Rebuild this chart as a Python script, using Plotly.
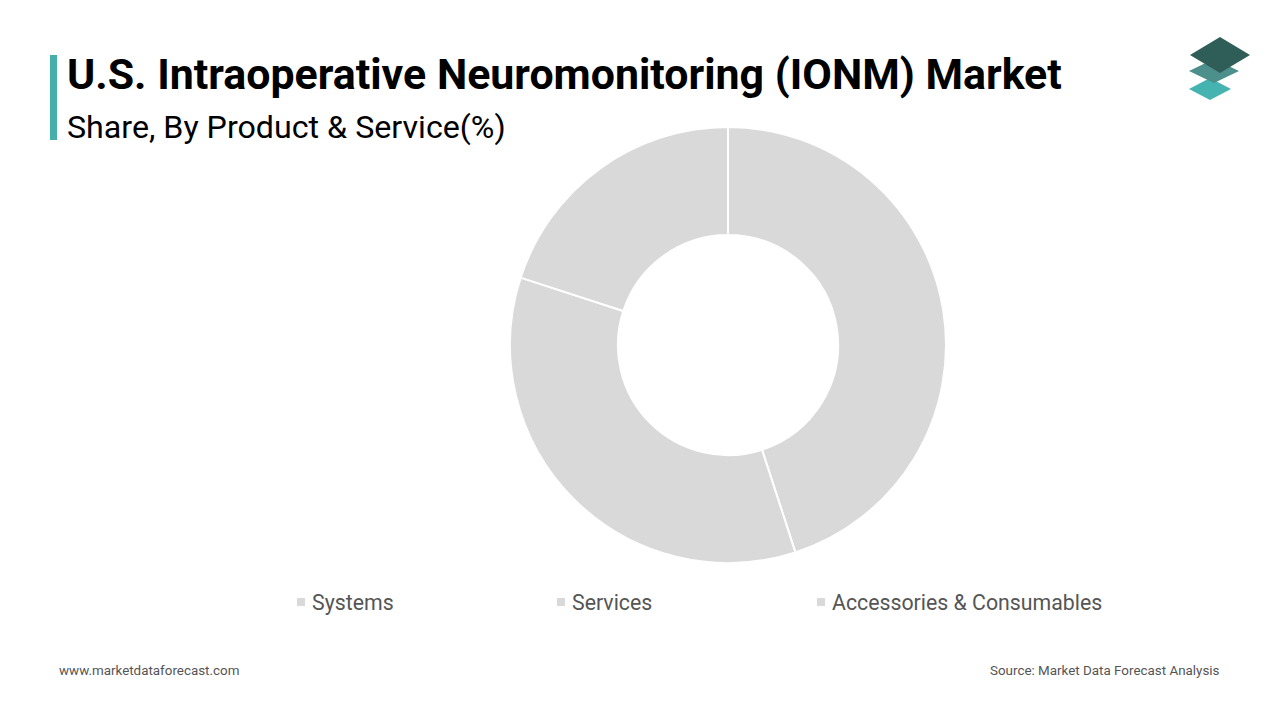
import plotly.graph_objects as go

categories = ["Systems", "Services", "Accessories & Consumables"]
shares = [45, 35, 20]
slice_colors = ["#d9d9d9", "#d9d9d9", "#d9d9d9"]

title_text = "U.S. Intraoperative Neuromonitoring (IONM) Market"
subtitle_text = "Share, By Product & Service(%)"
footer_left = "www.marketdataforecast.com"
footer_right = "Source: Market Data Forecast Analysis"

W, H = 1280, 720


def px(x):
    return x / W


def py(y):
    return 1 - y / H


cx, cy, r = 728, 345, 218

fig = go.Figure(
    go.Pie(
        labels=categories,
        values=shares,
        hole=0.505,
        sort=False,
        direction="clockwise",
        rotation=0,
        textinfo="none",
        hoverinfo="label+percent",
        marker=dict(colors=slice_colors, line=dict(color="white", width=2)),
        domain=dict(x=[px(cx - r), px(cx + r)], y=[py(cy + r), py(cy - r)]),
        showlegend=False,
    )
)

annotations = [
    dict(text=f"<b>{title_text}</b>", x=px(65), y=py(74), xanchor="left", yanchor="middle",
         font=dict(family="Roboto", size=42.9, color="#000000")),
    dict(text=subtitle_text, x=px(65), y=py(127), xanchor="left", yanchor="middle",
         font=dict(family="Roboto", size=32.2, color="#000000")),
    dict(text=footer_left, x=px(57), y=py(670), xanchor="left", yanchor="middle",
         font=dict(family="Roboto", size=13.4, color="#555555")),
    dict(text=footer_right, x=px(1222), y=py(670), xanchor="right", yanchor="middle",
         font=dict(family="Roboto", size=13.4, color="#555555")),
]

shapes = [
    dict(type="rect", xref="paper", yref="paper", x0=px(50), x1=px(57), y0=py(140), y1=py(55),
         fillcolor="#45b0ab", line=dict(width=0)),
]

# legend (custom)
leg_x = [297, 557, 817]
leg_y = 602
for name, col, lx in zip(categories, slice_colors, leg_x):
    shapes.append(dict(type="rect", xref="paper", yref="paper", x0=px(lx), x1=px(lx + 8),
                       y0=py(leg_y + 4), y1=py(leg_y - 4), fillcolor=col, line=dict(width=0)))
    annotations.append(dict(text=name, x=px(lx + 13), y=py(leg_y), xanchor="left", yanchor="middle",
                            showarrow=False, font=dict(family="Roboto", size=21.3, color="#555555")))

# logo: three stacked diamonds
def diamond(cxp, cyp, hw, hh, color):
    pts = [(cxp - hw, cyp), (cxp, cyp - hh), (cxp + hw, cyp), (cxp, cyp + hh)]
    path = "M " + " L ".join(f"{px(a):.5f},{py(b):.5f}" for a, b in pts) + " Z"
    return dict(type="path", xref="paper", yref="paper", path=path, fillcolor=color,
                line=dict(width=0))

shapes.append(diamond(1210, 89, 21, 11, "#45b3b0"))
shapes.append(diamond(1214, 71, 25, 12, "#4d8f8a"))
shapes.append(diamond(1220, 55, 30, 18, "#2f5e59"))

for a in annotations:
    a.setdefault("showarrow", False)
    a["xref"] = "paper"
    a["yref"] = "paper"

fig.update_layout(
    width=W, height=H,
    margin=dict(l=0, r=0, t=0, b=0),
    paper_bgcolor="white", plot_bgcolor="white",
    annotations=annotations, shapes=shapes,
    font=dict(family="Roboto"),
)

fig.write_html("out.html")
